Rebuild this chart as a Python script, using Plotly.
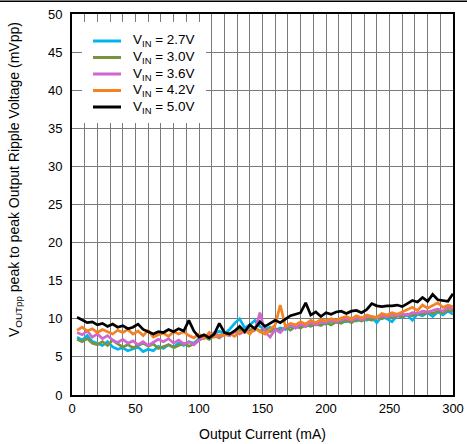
import plotly.graph_objects as go

current_ma = list(range(4, 301, 4))

v27 = [7.6, 7.2, 7.8, 7.0, 6.8, 6.5, 7.0, 6.3, 6.0, 6.2, 5.8, 6.0, 6.3, 5.7, 6.0, 5.8, 6.4, 6.1, 6.6, 6.3,
       6.8, 6.5, 7.0, 6.8, 7.4, 7.8, 7.5, 8.0, 8.4, 8.0, 8.6, 9.4, 10.0, 8.8, 9.2, 9.8, 9.0, 8.6, 8.9, 8.5,
       8.8, 8.6, 9.0, 8.8, 9.2, 9.0, 9.4, 9.2, 9.6, 9.3, 9.7, 9.5, 9.8, 9.6, 9.9, 9.7, 10.1, 9.8, 10.2, 9.5,
       10.3, 10.0, 9.6, 10.4, 10.2, 10.5, 9.8, 10.6, 10.4, 10.8, 10.3, 10.9, 10.5, 11.0, 10.6]
v30 = [7.3, 7.0, 7.4, 6.8, 6.6, 7.0, 6.5, 7.2, 6.7, 6.3, 6.6, 6.2, 6.5, 6.8, 6.4, 6.7, 6.1, 6.3, 6.6, 6.2,
       6.5, 6.8, 6.4, 6.7, 7.2, 7.6, 7.3, 7.8, 7.5, 8.0, 7.8, 8.3, 8.6, 8.2, 8.5, 8.8, 8.4, 8.6, 8.3, 8.7,
       8.4, 8.9, 8.5, 9.0, 8.8, 9.2, 9.0, 9.3, 9.1, 9.5, 9.2, 9.6, 9.4, 9.8, 9.5, 9.9, 9.7, 10.0, 9.8, 10.2,
       10.0, 10.3, 10.1, 10.4, 10.3, 10.6, 10.4, 10.7, 10.6, 10.9, 10.7, 11.0, 10.8, 11.1, 11.0]
v36 = [8.2, 7.9, 8.4, 7.6, 8.0, 7.4, 7.8, 7.2, 6.9, 7.3, 6.8, 7.1, 6.6, 7.0, 6.5, 6.9, 7.3, 7.0, 7.4, 6.8,
       7.2, 6.7, 7.0, 6.6, 7.2, 7.5, 7.8, 8.2, 7.6, 8.0, 7.8, 8.3, 8.0, 8.4, 8.2, 8.5, 10.8, 8.3, 7.6, 8.6,
       8.2, 8.9, 9.2, 8.8, 9.3, 9.0, 9.5, 9.2, 9.6, 9.5, 9.8, 9.6, 9.9, 10.0, 9.8, 10.1, 9.9, 10.2, 10.3, 10.1,
       10.4, 10.3, 10.5, 10.4, 10.6, 10.5, 10.8, 10.7, 11.0, 10.9, 11.1, 11.3, 11.0, 11.6, 11.2]
v42 = [8.5, 8.9, 8.4, 8.7, 8.2, 8.6, 8.3, 8.0, 8.5, 8.2, 8.6, 8.0, 8.4, 7.8, 8.5, 7.6, 7.9, 8.1, 7.7, 8.3,
       8.0, 8.3, 7.8, 7.5, 8.0, 7.4, 8.2, 7.6, 7.9, 7.8, 8.1, 7.7, 8.2, 8.5, 8.0, 8.8, 8.3, 8.0, 8.6, 9.2,
       11.8, 9.0, 9.4, 9.2, 9.6, 9.3, 9.8, 9.5, 9.9, 9.7, 10.0, 9.8, 10.1, 10.3, 10.0, 10.4, 10.1, 10.5, 10.3, 10.2,
       10.7, 10.5, 10.8, 10.6, 10.9, 11.2, 11.5, 11.1, 11.8, 11.4, 11.7, 12.1, 11.5, 11.8, 11.6]
v50 = [10.2, 9.8, 9.5, 9.6, 9.2, 9.4, 9.0, 9.3, 8.9, 9.1, 8.7, 8.9, 9.3, 8.6, 8.3, 8.0, 8.3, 8.2, 8.6, 8.3,
       8.7, 8.4, 9.8, 8.4, 7.6, 7.9, 7.5, 8.0, 9.4, 8.2, 8.0, 8.4, 9.0, 8.3, 9.2, 8.7, 9.6, 9.0, 9.4, 9.8,
       9.5, 10.0, 10.4, 10.6, 10.8, 12.1, 10.5, 10.9, 10.3, 10.8, 10.6, 10.9, 11.0, 10.7, 11.0, 11.1, 10.8, 11.2, 12.0, 11.7,
       11.6, 11.7, 11.7, 11.8, 11.6, 12.0, 12.4, 12.2, 12.8, 12.3, 13.2, 12.5, 12.4, 12.3, 13.3]

series_names = ["V<sub>IN</sub> = 2.7V", "V<sub>IN</sub> = 3.0V", "V<sub>IN</sub> = 3.6V",
                "V<sub>IN</sub> = 4.2V", "V<sub>IN</sub> = 5.0V"]
series_values = [v27, v30, v36, v42, v50]
series_colors = ["#00B4F0", "#77933C", "#D066D0", "#F58220", "#000000"]

x_title = "Output Current (mA)"
y_title = "V<sub>OUTpp</sub> peak to peak Output Ripple Voltage (mVpp)"

font = "Liberation Sans, Arial, sans-serif"
W, H = 467, 444
ml, mr, mt, mb = 72, 14, 14, 49
pw = W - ml - mr
ph = H - mt - mb


def px_x(p):
    return (p - ml) / pw


def px_y(p):
    return (H - mb - p) / ph


fig = go.Figure()
for name, vals, color in zip(series_names, series_values, series_colors):
    fig.add_trace(go.Scatter(x=current_ma, y=vals, mode="lines", name=name, showlegend=False,
                             line=dict(color=color, width=2.7)))

# legend drawn manually for exact spacing
shapes = [dict(type="line", xref="paper", yref="paper", x0=px_x(0), x1=px_x(W),
               y0=px_y(1.2), y1=px_y(1.2), line=dict(color="black", width=1.6)),
          dict(type="rect", xref="paper", yref="paper", layer="above",
               x0=px_x(82), x1=px_x(206), y0=px_y(123), y1=px_y(22),
               fillcolor="white", line=dict(width=0))]
annotations = []
row_y = [41, 57.5, 74, 90.5, 107]
for name, color, ry in zip(series_names, series_colors, row_y):
    shapes.append(dict(type="line", xref="paper", yref="paper", layer="above",
                       x0=px_x(93), x1=px_x(121), y0=px_y(ry), y1=px_y(ry),
                       line=dict(color=color, width=3)))
    annotations.append(dict(text=name, xref="paper", yref="paper", x=px_x(131), y=px_y(ry),
                            xanchor="left", yanchor="middle", showarrow=False,
                            font=dict(size=13.5, family=font, color="black")))
annotations.append(dict(text=y_title, xref="paper", yref="paper", x=px_x(15), y=px_y(180),
                        xanchor="center", yanchor="middle", textangle=-90, showarrow=False,
                        font=dict(size=14, family=font, color="black")))

fig.update_layout(
    width=W, height=H,
    margin=dict(l=ml, r=mr, t=mt, b=mb),
    paper_bgcolor="white", plot_bgcolor="white",
    font=dict(family=font, size=13, color="#000000"),
    showlegend=False,
    xaxis=dict(range=[0, 300], dtick=50, tick0=0, showgrid=True, gridcolor="#7a7a7a", gridwidth=1,
               minor=dict(dtick=10, showgrid=True, gridcolor="#7a7a7a", gridwidth=1),
               showline=True, linecolor="black", linewidth=2, mirror=True, automargin=False,
               zeroline=False, ticks="", ticklabelstandoff=0,
               title=dict(text=x_title, font=dict(size=14), standoff=15)),
    yaxis=dict(range=[0, 50], dtick=5, tick0=0, showgrid=True, gridcolor="#7a7a7a", gridwidth=1,
               showline=True, linecolor="black", linewidth=2, mirror=True, automargin=False,
               zeroline=False, ticks="", ticklabelstandoff=5),
    shapes=shapes,
    annotations=annotations,
)

fig.write_html("out.html", config={"displayModeBar": False},
               post_script="document.body.style.margin='0';")
